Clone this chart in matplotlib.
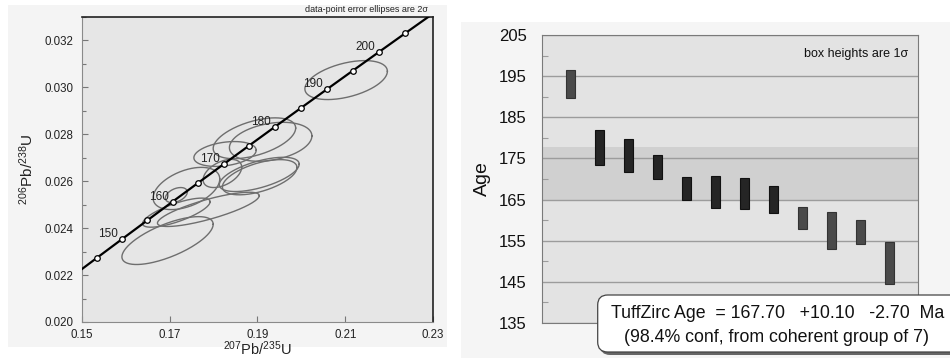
import numpy as np
import matplotlib
matplotlib.use('Agg')
import matplotlib.pyplot as plt
from matplotlib.patches import Rectangle, FancyBboxPatch

plt.rcParams['font.family'] = ['Liberation Sans', 'DejaVu Sans']
plt.rcParams['mathtext.default'] = 'regular'

# concordia points (age in Ma, 207Pb/235U, 206Pb/238U)
conc_age = [140, 145, 150, 155, 160, 165, 170, 175, 180, 185, 190, 195, 200, 205, 210]
conc_x = [0.147836, 0.153502, 0.159197, 0.164919, 0.170670, 0.176449, 0.182256, 0.188092,
          0.193957, 0.199851, 0.205774, 0.211726, 0.217707, 0.223718, 0.229759]
conc_y = [0.021955, 0.022748, 0.023542, 0.024336, 0.025131, 0.025926, 0.026722, 0.027519,
          0.028316, 0.029114, 0.029912, 0.030712, 0.031511, 0.032312, 0.033113]
mark_ages = [145, 150, 155, 160, 165, 170, 175, 180, 185, 190, 195, 200, 205]
label_ages = [150, 160, 170, 180, 190, 200]

# error ellipses: centre, half-widths (2 sigma), correlation
ell_x = [0.2102, 0.1893, 0.1930, 0.1826, 0.1904, 0.1905, 0.1820, 0.1738, 0.1715, 0.1788, 0.1715, 0.1695]
ell_y = [0.03031, 0.02783, 0.02768, 0.02716, 0.02629, 0.02617, 0.02633, 0.02569, 0.02541, 0.02480, 0.02466, 0.02347]
ell_sx = [0.0094, 0.0094, 0.0094, 0.0071, 0.0091, 0.0085, 0.0044, 0.0076, 0.0025, 0.0116, 0.0077, 0.0104]
ell_sy = [0.00083, 0.00087, 0.00083, 0.00053, 0.00073, 0.00075, 0.00060, 0.00090, 0.00032, 0.00073, 0.00062, 0.00102]
ell_rho = [0.45, 0.5, 0.3, 0.3, 0.6, 0.55, 0.45, 0.45, 0.4, 0.8, 0.75, 0.68]

# TuffZirc boxes (1 sigma), in plotting order
box_top = [196.6, 182.0, 179.8, 175.8, 170.4, 170.7, 170.3, 168.3, 163.2, 161.9, 160.1, 154.8]
box_bot = [189.6, 173.4, 171.7, 170.0, 164.9, 162.9, 162.6, 161.7, 157.9, 153.1, 154.3, 144.5]
in_group = [0, 1, 1, 1, 1, 1, 1, 1, 0, 0, 0, 0]
tz_age = 167.70
tz_plus = 10.10
tz_minus = 2.70


def main():
    fig = plt.figure(figsize=(9.5, 3.58), dpi=100)
    fig.patch.set_facecolor('white')
    fig.add_artist(Rectangle((0.0084, 0.031), 0.462, 0.955, transform=fig.transFigure,
                             facecolor='#f4f4f4', edgecolor='none', zorder=-5))
    fig.add_artist(Rectangle((0.485, 0.0), 0.515, 0.9385, transform=fig.transFigure,
                             facecolor='#f5f5f5', edgecolor='none', zorder=-5))
    concordia(fig)
    boxes(fig)
    fig.savefig('out.png', dpi=100)


def concordia(fig):
    ax = fig.add_axes([0.0863, 0.1006, 0.3695, 0.852])
    ax.set_facecolor('#e6e6e6')
    t = np.linspace(0, 2 * np.pi, 200)
    for cx, cy, sx, sy, r in zip(ell_x, ell_y, ell_sx, ell_sy, ell_rho):
        ex = cx + sx * np.cos(t)
        ey = cy + sy * (r * np.cos(t) + np.sqrt(1 - r * r) * np.sin(t))
        ax.plot(ex, ey, color='#6e6e6e', lw=1.0, zorder=2)
    ax.plot(conc_x, conc_y, color='black', lw=1.6, zorder=3)
    mx = [conc_x[conc_age.index(a)] for a in mark_ages]
    my = [conc_y[conc_age.index(a)] for a in mark_ages]
    ax.plot(mx, my, 'o', ms=4, mfc='white', mec='black', mew=0.9, zorder=4)
    for a in label_ages:
        i = conc_age.index(a)
        ax.annotate(str(a), (conc_x[i], conc_y[i]), xytext=(-10, 3.6), textcoords='offset points',
                    ha='center', va='center', fontsize=8.5, color='#222222', zorder=5)
    ax.set_xlim(0.15, 0.23)
    ax.set_ylim(0.020, 0.033)
    ax.set_xticks([0.15, 0.17, 0.19, 0.21, 0.23])
    ax.set_xticklabels(['0.15', '0.17', '0.19', '0.21', '0.23'])
    ax.set_yticks([0.020, 0.022, 0.024, 0.026, 0.028, 0.030, 0.032])
    ax.set_yticklabels(['0.020', '0.022', '0.024', '0.026', '0.028', '0.030', '0.032'])
    ax.set_yticks(np.arange(0.021, 0.0335, 0.002), minor=True)
    ax.tick_params(direction='in', length=4, width=0.8, color='#777777', labelsize=8.3, pad=6,
                   labelcolor='#222222')
    ax.tick_params(axis='x', pad=5)
    ax.tick_params(which='minor', direction='in', length=3, width=0.8, color='#777777')
    for s in ['left', 'bottom']:
        ax.spines[s].set_color('#8a8a8a')
    for s in ['top', 'right']:
        ax.spines[s].set_color('#222222')
        ax.spines[s].set_linewidth(1.2)
    ax.set_xlabel(r'$^{207}$Pb/$^{235}$U', fontsize=10.5, color='#222222')
    ax.xaxis.set_label_coords(0.5, -0.058)
    ax.set_ylabel(r'$^{206}$Pb/$^{238}$U', fontsize=11, labelpad=6, color='#222222')
    ax.text(0.985, 1.01, 'data-point error ellipses are 2σ', transform=ax.transAxes,
            ha='right', va='bottom', fontsize=6.5, color='#222222')


def boxes(fig):
    ax = fig.add_axes([0.5705, 0.0978, 0.3958, 0.8045])
    ax.set_facecolor('#e3e3e3')
    ax.axhspan(tz_age - tz_minus, tz_age + tz_plus, color='#d0d0d0', zorder=0.5, lw=0)
    ax.set_ylim(135, 205)
    ax.set_xlim(0, 13)
    ax.set_yticks(np.arange(135, 206, 10))
    ax.set_yticks(np.arange(140, 205, 10), minor=True)
    ax.grid(axis='y', which='major', color='#9c9c9c', lw=1.0, zorder=1)
    ax.set_axisbelow(True)
    x = np.arange(1, len(box_top) + 1)
    colors = ['#252525' if g else '#4a4a4a' for g in in_group]
    edges = ['#111111' if g else '#333333' for g in in_group]
    ax.bar(x, np.array(box_top) - np.array(box_bot), bottom=box_bot, width=0.31,
           color=colors, edgecolor=edges, lw=0.8, zorder=3)
    ax.set_xticks([])
    ax.tick_params(axis='y', which='major', length=0, labelsize=12, pad=11, labelcolor='#111111')
    ax.tick_params(axis='y', which='minor', direction='in', length=4, color='#9c9c9c', width=0.8)
    for s in ax.spines.values():
        s.set_color('#7a7a7a')
    ax.set_ylabel('Age', fontsize=14, labelpad=6, color='#111111')
    ax.text(0.975, 0.955, 'box heights are 1σ', transform=ax.transAxes,
            ha='right', va='top', fontsize=9, color='#111111', zorder=5)

    # result box
    tr = fig.dpi_scale_trans
    shadow = FancyBboxPatch((6.00, 0.03), 4.2, 0.56, boxstyle='round,pad=0,rounding_size=0.1',
                            transform=tr, facecolor='#666666', edgecolor='none', zorder=8)
    box = FancyBboxPatch((5.977, 0.06), 4.2, 0.57, boxstyle='round,pad=0,rounding_size=0.1',
                         transform=tr, facecolor='white', edgecolor='#444444', lw=0.9, zorder=9)
    fig.add_artist(shadow)
    fig.add_artist(box)
    line1 = 'TuffZirc Age  = %.2f   +%.2f   -%.2f  Ma' % (tz_age, tz_plus, tz_minus)
    line2 = '(98.4% conf, from coherent group of 7)'
    fig.text(778 / 950, 1 - 313 / 358, line1, ha='center', va='center', fontsize=12.8,
             color='#111111', zorder=10)
    fig.text(776 / 950, 1 - 337 / 358, line2, ha='center', va='center', fontsize=12.8,
             color='#111111', zorder=10)


if __name__ == '__main__':
    main()
